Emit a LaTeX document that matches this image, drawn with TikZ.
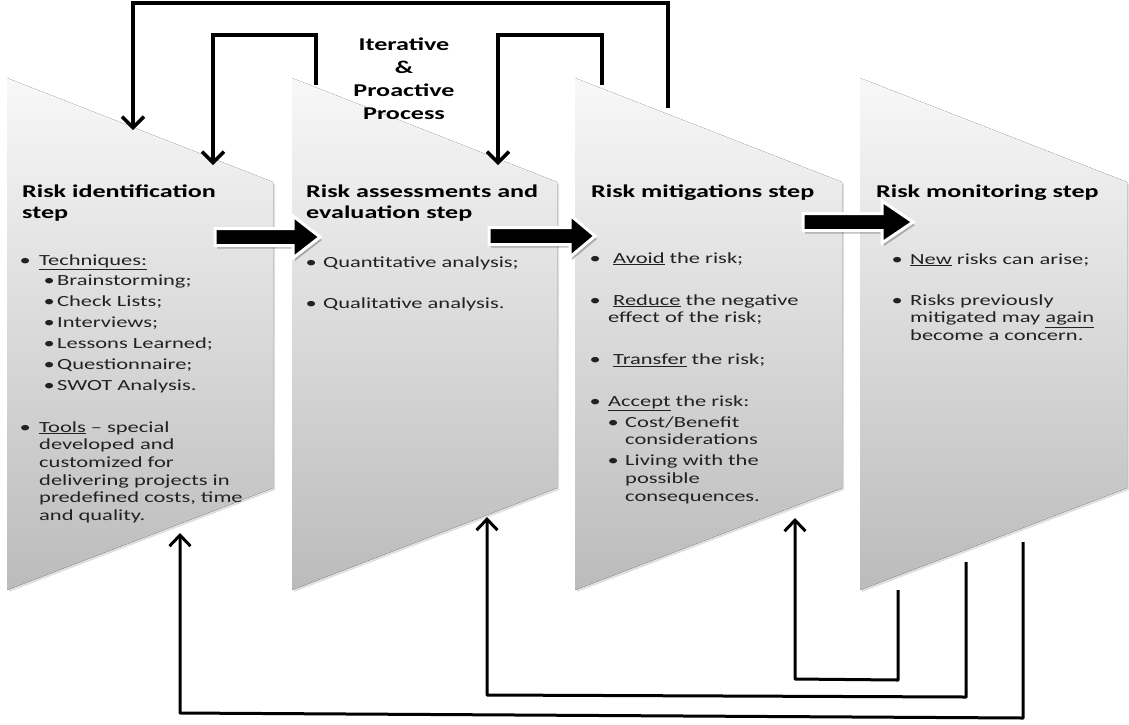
\documentclass[tikz,border=0pt]{standalone}
\usepackage{fontspec}
\setmainfont{Carlito}[FakeStretch=1.45]
\usetikzlibrary{arrows.meta}
\definecolor{txt}{HTML}{222222}
\definecolor{ptop}{HTML}{F8F8F8}
\definecolor{pbot}{HTML}{BBBBBB}
\newcommand{\bul}[1]{\llap{\makebox[#1][l]{\makebox[0pt][c]{\textbullet}}}}
\newcommand{\undl}[1]{\underline{#1}}
\newcommand{\fatarrow}[4]{%
  \fill[black,opacity=.25,xshift=2pt,yshift=-3pt] (#1,#4-8.5) -- (#2,#4-8.5) -- (#2,#4-21) -- (#3,#4) -- (#2,#4+21) -- (#2,#4+8.5) -- (#1,#4+8.5) -- cycle;
  \filldraw[fatarr] (#1,#4-8.5) -- (#2,#4-8.5) -- (#2,#4-21) -- (#3,#4) -- (#2,#4+21) -- (#2,#4+8.5) -- (#1,#4+8.5) -- cycle;}
\tikzset{
  pnl/.style={top color=ptop, bottom color=pbot, draw=none},
  pshadow/.style={fill=black, opacity=0.12},
  ttltxt/.style={anchor=base west, inner sep=0pt, align=left, font=\fontsize{18}{21.5}\selectfont\bfseries, text=black},
  bodytxt/.style={anchor=base west, inner sep=0pt, align=left, font=\fontsize{15.5}{17.7}\selectfont, text=txt},
  subtxt/.style={bodytxt, font=\fontsize{15.5}{21}\selectfont},
  fbtop/.style={line width=3.5pt, -{Straight Barb[length=11pt,width=22pt,line width=3.5pt]}},
  fbbot/.style={line width=3pt, -{Straight Barb[length=11pt,width=21pt,line width=3pt]}},
  fatarr/.style={fill=black, draw=white, line width=3pt, line join=miter},
}
\begin{document}
\begin{tikzpicture}[x=1pt,y=-1pt]
\useasboundingbox (0,0) rectangle (1129,724);
\fill[white] (0,0) rectangle (1129,724);
% panels
\foreach \L/\R in {7/273, 292/557, 575/842, 860/1127} {
  \fill[pshadow,xshift=2pt,yshift=-2pt] (\L,78) -- (\R,182) -- (\R,488) -- (\L,590) -- cycle;
  \fill[pnl] (\L,78) -- (\R,182) -- (\R,488) -- (\L,590) -- cycle;
}
% coordinates for feedback connectors
\coordinate (p3topO) at (668,108);
\coordinate (p1inO) at (133,130);
\coordinate (p2topA) at (316,85);
\coordinate (p1inA) at (213,165);
\coordinate (p3topB) at (602,85);
\coordinate (p2inB) at (498,165);
\coordinate (p4botO) at (1023,542);
\coordinate (p1botin) at (180,533);
\coordinate (p4botM) at (966,562);
\coordinate (p2botin) at (487,517);
\coordinate (p4botI) at (898,590);
\coordinate (p3botin) at (795,518);
% top feedback loops
\draw[fbtop] (p3topO) -- ++(0,-105) -| (p1inO);
\draw[fbtop] (p2topA) -- ++(0,-50) -| (p1inA);
\draw[fbtop] (p3topB) -- ++(0,-50) -| (p2inB);
% bottom feedback loops
\draw[fbbot, line join=round] (p4botO) -- ++(0,176) -- ++(-843,-5) -- (p1botin);
\draw[fbbot, line join=round] (p4botM) -- ++(0,135) -- ++(-479,-2) -- (p2botin);
\draw[fbbot, line join=round] (p4botI) -- ++(0,90) -- ++(-103,-1) -- (p3botin);
% fat arrows
\fatarrow{215}{293}{320}{237}
\fatarrow{489}{570}{595}{236}
\fatarrow{803}{882}{913}{222}
% centre label (base anchor = baseline of the last line)
\node[ttltxt, anchor=base, align=center, font=\fontsize{18}{22.7}\selectfont\bfseries] (iter) at (404,119) {Iterative\\\&\\Proactive\\Process};
% panel 1
\node[ttltxt] (t1) at (22,218.5) {Risk identification\\step};
\node[bodytxt] (b1a) at (39,265) {\bul{14pt}\undl{Techniques:}};
\node[subtxt] (b1b) at (57,390) {\bul{8pt}Brainstorming;\\\bul{8pt}Check Lists;\\\bul{8pt}Interviews;\\\bul{8pt}Lessons Learned;\\\bul{8pt}Questionnaire;\\\bul{8pt}SWOT Analysis.};
\node[bodytxt] (b1c) at (39,520.5) {\bul{14pt}\undl{Tools} -- special\\developed and\\customized for\\delivering projects in\\predefined costs, time\\and quality.};
% panel 2
\node[ttltxt] (t2) at (306,218.5) {Risk assessments and\\evaluation step};
\node[bodytxt] (b2) at (323,308) {\bul{12pt}Quantitative analysis;\\[23.3pt]\bul{12pt}Qualitative analysis.};
% panel 3
\node[ttltxt] (t3) at (591,197) {Risk mitigations step};
\node[bodytxt] (b3a) at (608,406.7) {\bul{13pt}\hspace{5pt}\undl{Avoid} the risk;\\[24.3pt]\bul{13pt}\hspace{5pt}\undl{Reduce} the negative\\effect of the risk;\\[24.3pt]\bul{13pt}\hspace{5pt}\undl{Transfer} the risk;\\[24.3pt]\bul{13pt}\undl{Accept} the risk:};
\node[bodytxt] (b3b) at (625,501.3) {\bul{12pt}Cost/Benefit\\considerations\\[3.5pt]\bul{12pt}Living with the\\possible\\consequences.};
% panel 4
\node[ttltxt] (t4) at (876,197) {Risk monitoring step};
\node[bodytxt] (b4) at (910,340.4) {\bul{13pt}\undl{New} risks can arise;\\[23.3pt]\bul{13pt}Risks previously\\mitigated may \undl{again}\\become a concern.};
\end{tikzpicture}
\end{document}
